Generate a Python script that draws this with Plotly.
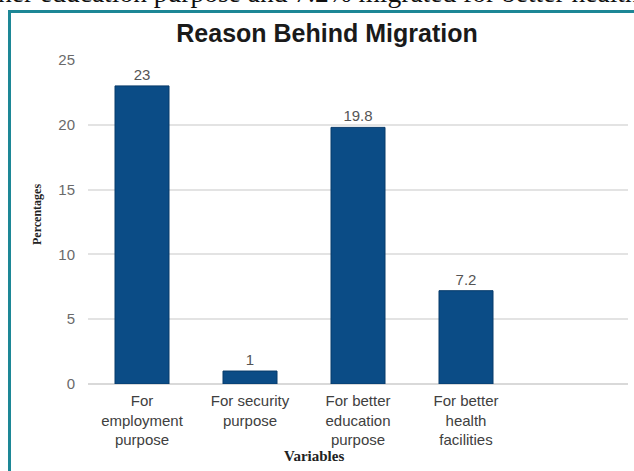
import plotly.graph_objects as go

# Survey results: reason behind migration (percent of respondents)
categories = [
    "For<br>employment<br>purpose",
    "For security<br>purpose",
    "For better<br>education<br>purpose",
    "For better<br>health<br>facilities",
]
percentages = [23, 1, 19.8, 7.2]
value_labels = ["23", "1", "19.8", "7.2"]
y_ticks = [0, 5, 10, 15, 20, 25]

W, H = 634, 471
L, R, T, B = 88, 6, 60, 87
plot_w = W - L - R
plot_h = H - T - B


def px_x(px):
    return (px - L) / plot_w


def px_y(py):
    return (H - B - py) / plot_h


fig = go.Figure(
    go.Bar(
        x=categories,
        y=percentages,
        width=0.5,
        text=value_labels,
        textposition="outside",
        cliponaxis=False,
        textfont=dict(family="Liberation Sans, Arial", size=15, color="#555555"),
        marker=dict(color="#0b4c86", line=dict(color="#073a6a", width=1)),
    )
)

fig.update_layout(
    width=W,
    height=H,
    autosize=False,
    margin=dict(l=L, r=R, t=T, b=B),
    paper_bgcolor="white",
    plot_bgcolor="white",
    showlegend=False,
    title=dict(
        text="<b>Reason Behind Migration</b>",
        x=327 / W,
        y=1 - 33 / H,
        xanchor="center",
        yanchor="middle",
        font=dict(family="Liberation Sans, Arial", size=25, color="#1a1a1a"),
    ),
    xaxis=dict(
        range=[-0.5, 4.5],
        showgrid=False,
        showline=False,
        ticks="",
        ticklabelstandoff=6,
        tickfont=dict(family="Liberation Sans, Arial", size=15, color="#404040"),
    ),
    yaxis=dict(
        range=[0, 25],
        tickvals=y_ticks,
        showgrid=True,
        gridcolor="#e3e3e3",
        gridwidth=1.5,
        zeroline=True,
        zerolinecolor="#d9d9d9",
        zerolinewidth=1.5,
        showline=False,
        ticks="",
        ticklabelstandoff=12,
        tickfont=dict(family="Liberation Sans, Arial", size=15, color="#6a6a6a"),
    ),
)

# Axis titles
fig.add_annotation(
    text="<b>Percentages</b>", textangle=-90,
    x=px_x(37), y=px_y(215), xref="paper", yref="paper",
    showarrow=False, xanchor="center", yanchor="middle",
    font=dict(family="Liberation Serif, Times New Roman", size=12, color="#222222"),
)
fig.add_annotation(
    text="<b>Variables</b>",
    x=px_x(314), y=px_y(456), xref="paper", yref="paper",
    showarrow=False, xanchor="center", yanchor="middle",
    font=dict(family="Liberation Serif, Times New Roman", size=15, color="#222222"),
)

# Running text line of the page above the chart frame
fig.add_annotation(
    text="her education purpose and 7.2% migrated for better health facilities",
    x=px_x(-4), y=px_y(-7.5), xref="paper", yref="paper",
    showarrow=False, xanchor="left", yanchor="middle",
    font=dict(family="Liberation Serif, Times New Roman", size=27.5, color="#111111"),
)

# Teal frame around the chart (top and left edges)
frame = dict(color="#1d8796", width=3)
fig.add_shape(type="line", xref="paper", yref="paper",
              x0=px_x(8), x1=px_x(640), y0=px_y(11.5), y1=px_y(11.5), line=frame)
fig.add_shape(type="line", xref="paper", yref="paper",
              x0=px_x(9.5), x1=px_x(9.5), y0=px_y(10), y1=px_y(480), line=frame)

fig.write_html("out.html")
